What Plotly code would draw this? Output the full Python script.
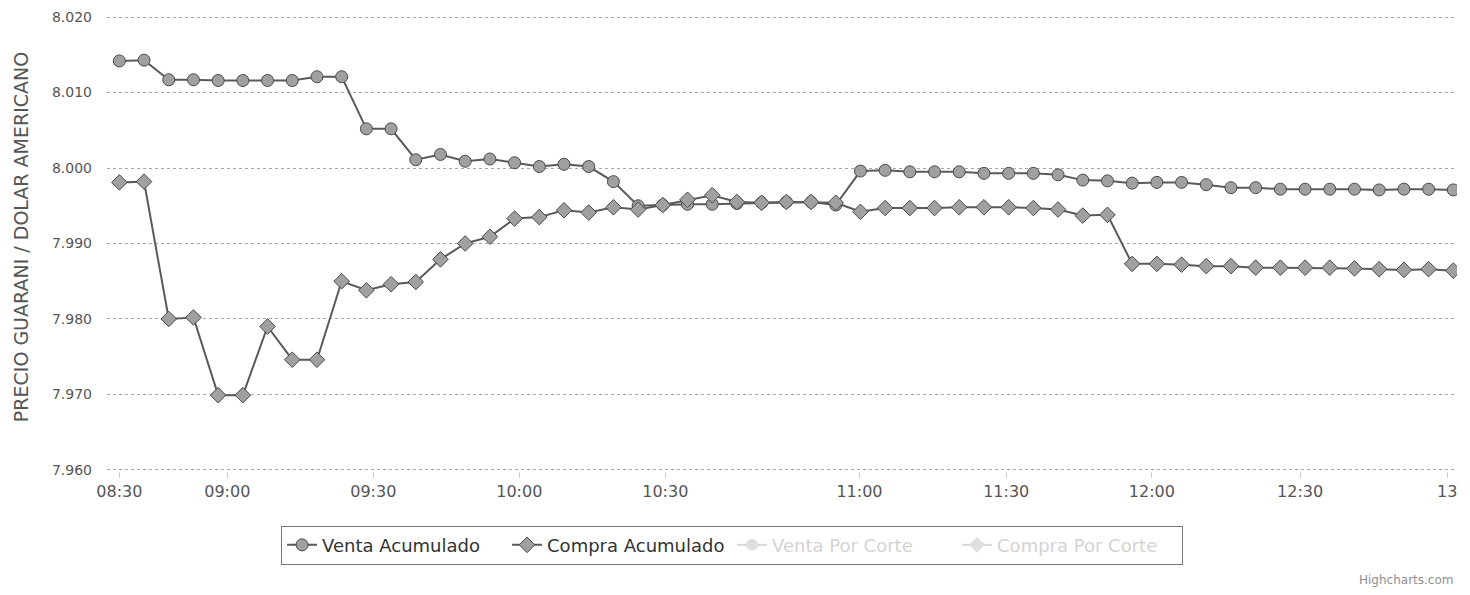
import plotly.graph_objects as go

# ---- data ----
venta_acumulado = [
    8.0142, 8.0143, 8.0117, 8.0117, 8.0116, 8.0116, 8.0116, 8.0116, 8.0121, 8.0121,
    8.0052, 8.0052, 8.0011, 8.0018, 8.0009, 8.0012, 8.0007, 8.0002, 8.0005, 8.0002,
    7.9982, 7.9950, 7.9951, 7.9952, 7.9952, 7.9953, 7.9954, 7.9955, 7.9955, 7.9951,
    7.9996, 7.9997, 7.9995, 7.9995, 7.9995, 7.9993, 7.9993, 7.9993, 7.9991, 7.9984,
    7.9983, 7.9980, 7.9981, 7.9981, 7.9978, 7.9974, 7.9974, 7.9972, 7.9972, 7.9972,
    7.9972, 7.9971, 7.9972, 7.9972, 7.9971,
]
compra_acumulado = [
    7.9981, 7.9982, 7.9800, 7.9802, 7.9699, 7.9699, 7.9790, 7.9746, 7.9746, 7.9850,
    7.9838, 7.9846, 7.9849, 7.9879, 7.9900, 7.9909, 7.9933, 7.9935, 7.9944, 7.9941,
    7.9948, 7.9945, 7.9951, 7.9958, 7.9964, 7.9955, 7.9954, 7.9955, 7.9955, 7.9954,
    7.9942, 7.9947, 7.9947, 7.9947, 7.9948, 7.9948, 7.9948, 7.9947, 7.9945, 7.9937,
    7.9938, 7.9873, 7.9873, 7.9872, 7.9870, 7.9870, 7.9868, 7.9868, 7.9868, 7.9868,
    7.9867, 7.9866, 7.9865, 7.9866, 7.9864,
]
# hidden series (switched off: they appear only, greyed, in the legend)
venta_por_corte = [None]
compra_por_corte = [None]

# ordinal x axis: points equally spaced, time labels at their ordinal positions
point_index = list(range(len(venta_acumulado)))
tick_labels = ["08:30", "09:00", "09:30", "10:00", "10:30", "11:00", "11:30", "12:00", "12:30", "13"]
tick_pos = [0, 4.37, 10.28, 16.19, 22.1, 29.96, 35.9, 41.8, 47.8, 53.75]
y_ticks = [7.960, 7.970, 7.980, 7.990, 8.000, 8.010, 8.020]

FONT = "DejaVu Sans"
LINE = "#5a5a5a"
FILL = "#a0a0a0"

fig = go.Figure()
fig.add_trace(go.Scatter(
    x=point_index, y=venta_acumulado, name="Venta Acumulado", mode="lines+markers",
    line=dict(color=LINE, width=2),
    marker=dict(symbol="circle", size=12, color=FILL, line=dict(color="#4a4a4a", width=1)),
))
fig.add_trace(go.Scatter(
    x=point_index, y=compra_acumulado, name="Compra Acumulado", mode="lines+markers",
    line=dict(color=LINE, width=2),
    marker=dict(symbol="diamond", size=12, color=FILL, line=dict(color="#4a4a4a", width=1)),
))
fig.add_trace(go.Scatter(
    x=point_index[:len(venta_por_corte)], y=venta_por_corte,
    name="<span style='color:#a8a8a8'>Venta Por Corte</span>",
    mode="lines+markers", visible="legendonly",
    line=dict(color="#b0b0b0", width=2),
    marker=dict(symbol="circle", size=12, color="#c0c0c0"),
))
fig.add_trace(go.Scatter(
    x=point_index[:len(compra_por_corte)], y=compra_por_corte,
    name="<span style='color:#a8a8a8'>Compra Por Corte</span>",
    mode="lines+markers", visible="legendonly",
    line=dict(color="#b0b0b0", width=2),
    marker=dict(symbol="diamond", size=12, color="#c0c0c0"),
))

# page body has an 8px margin; figure sized so everything lands where the reference has it
W, H = 1454, 579
L, R, T, B = 99, 5, 8, 116
fig.update_layout(
    width=W, height=H,
    margin=dict(l=L, r=R, t=T, b=B, autoexpand=False),
    paper_bgcolor="white", plot_bgcolor="white",
    font=dict(family=FONT, size=15, color="#555555"),
    showlegend=True,
    legend=dict(
        orientation="h", x=0.463, y=-0.163, xanchor="center", yanchor="middle",
        bordercolor="#777777", borderwidth=1, bgcolor="white",
        font=dict(family=FONT, size=18, color="#333333"),
        entrywidth=180, entrywidthmode="pixels",
        itemclick=False, itemdoubleclick=False,
    ),
    xaxis=dict(
        range=[-0.5, 54.15], tickmode="array", tickvals=tick_pos, ticktext=tick_labels,
        showgrid=False, zeroline=False, showline=False,
        ticks="outside", ticklen=6, tickcolor="#cccccc",
        tickfont=dict(family=FONT, size=16, color="#555555"),
    ),
    yaxis=dict(
        range=[7.95985, 8.02015], tickmode="array", tickvals=y_ticks,
        tickformat=".3f", showgrid=True, gridcolor="#a8a8a8", gridwidth=1, griddash="dot",
        zeroline=False, showline=False, ticks="", ticklabelstandoff=14,
        tickfont=dict(family=FONT, size=14, color="#555555"),
    ),
    annotations=[
        dict(text="PRECIO GUARANI / DOLAR AMERICANO", xref="paper", yref="paper",
             x=-0.0637, y=0.514, xanchor="center", yanchor="middle", textangle=-90,
             showarrow=False, font=dict(family=FONT, size=19, color="#555555")),
        dict(text="Highcharts.com", xref="paper", yref="paper",
             x=0.9985, y=-0.2396, xanchor="right", yanchor="middle",
             showarrow=False, font=dict(family=FONT, size=12, color="#909090")),
    ],
)

fig.write_html("out.html")
